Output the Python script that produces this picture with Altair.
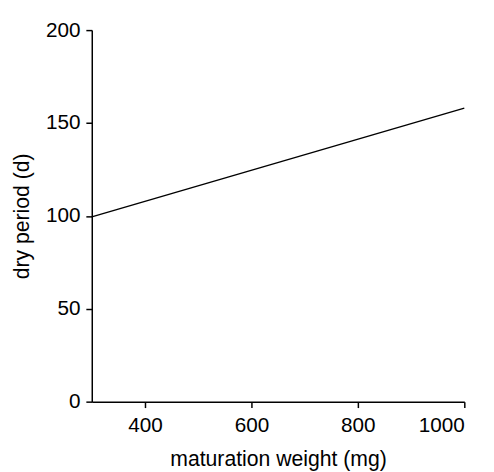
import altair as alt
import pandas as pd

weight = [300, 1000]
dry_period = [99.5, 158.0]

df = pd.DataFrame({"weight": weight, "dry": dry_period})

axis_style = dict(
    grid=False, domainColor="black", tickColor="black", labelColor="black", titleColor="black",
    labelFont="Liberation Sans", titleFont="Liberation Sans",
    labelFontSize=21, titleFontSize=21.5, titleFontWeight="normal",
    domainWidth=1.5, tickWidth=1.5,
)

chart = alt.Chart(df).mark_line(color="black", strokeWidth=1.4).encode(
    x=alt.X("weight:Q", scale=alt.Scale(domain=[300, 1000], nice=False, zero=False),
            axis=alt.Axis(title="maturation weight (mg)", values=[400, 600, 800, 1000], format="d",
                          tickSize=6, labelPadding=7, titlePadding=14, **axis_style)),
    y=alt.Y("dry:Q", scale=alt.Scale(domain=[0, 200], nice=False),
            axis=alt.Axis(title="dry period (d)", values=[0, 50, 100, 150, 200], format="d",
                          tickSize=6, labelPadding=6, titlePadding=12,
                          **axis_style)),
).properties(
    width=378, height=377,
    autosize=alt.AutoSizeParams(type="none"),
    padding={"left": 85, "top": 19, "right": 22, "bottom": 72},
).configure_view(stroke=None)

chart.save("out.html", embed_options={"renderer": "svg", "actions": False})
